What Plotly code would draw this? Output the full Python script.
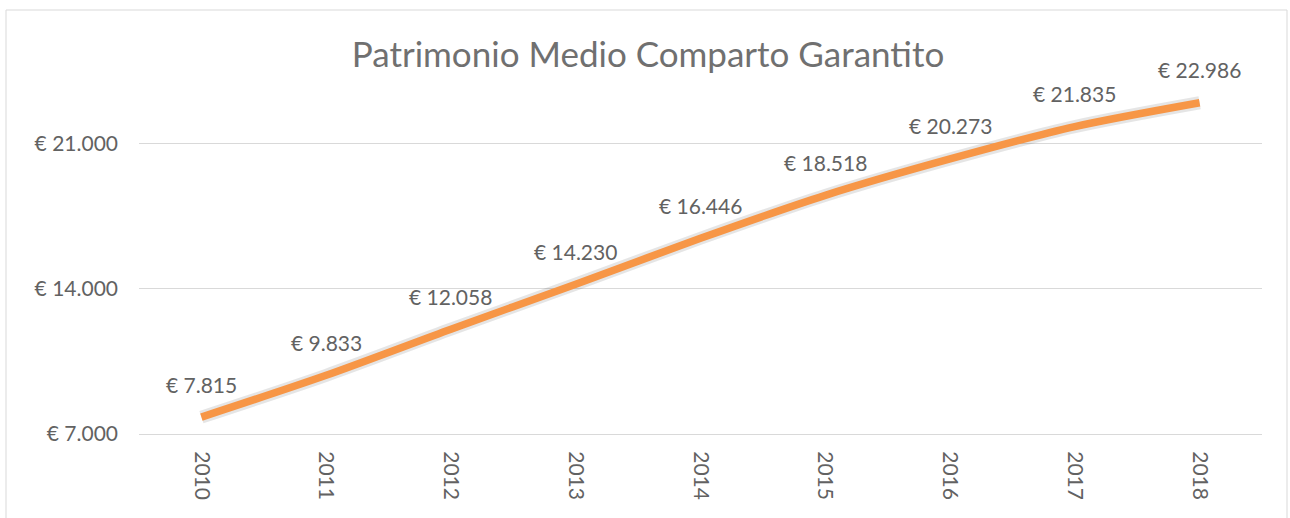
import plotly.graph_objects as go

years = ["2010", "2011", "2012", "2013", "2014", "2015", "2016", "2017", "2018"]
patrimonio = [7815, 9833, 12058, 14230, 16446, 18518, 20273, 21835, 22986]
y_ticks = [7000, 14000, 21000]
title_text = "Patrimonio Medio Comparto Garantito"

def eur(v):
    return "€ " + f"{v:,.0f}".replace(",", ".")

W, H = 1290, 518
L, R, T, B = 139, 28, 61, 84
pw = W - L - R
ph = H - T - B
FONT = "Lato"
TXT = "#626262"

fig = go.Figure()
# soft shadow
fig.add_trace(go.Scatter(x=years, y=patrimonio, mode="lines",
                         line=dict(color="rgba(0,0,0,0.10)", width=13, shape="spline", smoothing=0.8),
                         hoverinfo="skip", showlegend=False))
fig.add_trace(go.Scatter(x=years, y=patrimonio, mode="lines",
                         line=dict(color="#F79646", width=7.5, shape="spline", smoothing=0.8),
                         showlegend=False))

for i, v in enumerate(patrimonio):
    fig.add_annotation(x=i, y=v, xref="x", yref="y", text=eur(v), showarrow=False, yshift=33,
                       font=dict(family=FONT, size=21, color=TXT))

fig.add_shape(type="rect", xref="paper", yref="paper",
              x0=(6 - L) / pw, x1=(1287 - L) / pw,
              y0=-0.5, y1=(H - B - 10) / ph,
              line=dict(color="#d9d9d9", width=1), fillcolor="rgba(0,0,0,0)", layer="below")

fig.update_layout(
    width=W, height=H,
    margin=dict(l=L, r=R, t=T, b=B),
    paper_bgcolor="white", plot_bgcolor="white",
    separators=",.",
    title=dict(text=title_text, x=648 / W, xanchor="center", y=1 - 55 / H, yanchor="middle",
               font=dict(family=FONT, size=35, color="#707070")),
    xaxis=dict(type="category", range=[-0.5, len(years) - 0.5], tickangle=90,
               showgrid=False, showline=True, linecolor="#d9d9d9", linewidth=1,
               ticks="", tickfont=dict(family=FONT, size=21, color=TXT),
               ticklabelstandoff=12),
    yaxis=dict(range=[7000, 25000], tickvals=y_ticks, ticktext=[eur(t) for t in y_ticks],
               showgrid=True, gridcolor="#d9d9d9", gridwidth=1, zeroline=False,
               showline=False, ticks="", tickfont=dict(family=FONT, size=21, color=TXT),
               ticklabelstandoff=20),
)

fig.write_html("out.html", config={"displayModeBar": False},
               post_script="document.body.style.margin='0';document.body.style.overflow='hidden';")
